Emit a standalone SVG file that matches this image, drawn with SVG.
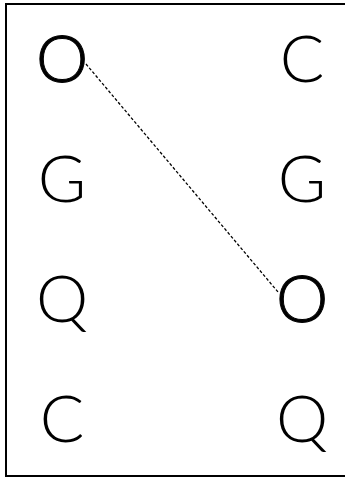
<svg xmlns="http://www.w3.org/2000/svg" width="345" height="479" viewBox="0 0 345 479">
  <style>
    .lbl { font-family: Lato, "Liberation Sans", sans-serif; font-size: 66px; font-weight: 300; fill: #000; text-anchor: middle; }
    .sel { stroke: #000; stroke-width: 1; }
    .link { stroke: #000; stroke-width: 1.3; stroke-dasharray: 3 2; fill: none; }
  </style>
  <rect x="6" y="4" width="341" height="472" fill="#fff" stroke="#000" stroke-width="2"/>
  <g id="connectors">
    <line class="link" x1="86" y1="64" x2="278" y2="292"/>
  </g>
  <g id="left-O"><text class="lbl sel" x="62" y="82">O</text></g>
  <g id="left-G"><text class="lbl" x="62" y="202">G</text></g>
  <g id="left-Q"><text class="lbl" x="62" y="322">Q</text></g>
  <g id="left-C"><text class="lbl" x="62" y="442">C</text></g>
  <g id="right-C"><text class="lbl" x="302" y="82">C</text></g>
  <g id="right-G"><text class="lbl" x="302" y="202">G</text></g>
  <g id="right-O"><text class="lbl sel" x="302" y="322">O</text></g>
  <g id="right-Q"><text class="lbl" x="302" y="442">Q</text></g>
</svg>
